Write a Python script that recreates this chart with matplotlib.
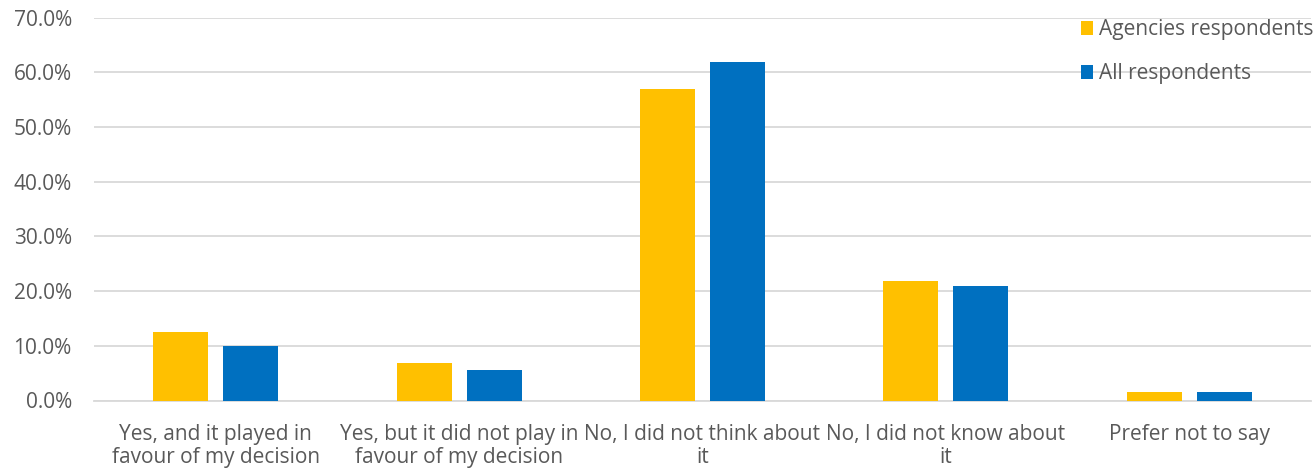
import matplotlib.pyplot as plt
import numpy as np

plt.rcParams['font.family'] = ['Open Sans', 'DejaVu Sans']

categories = ['Yes, and it played in\nfavour of my decision',
              'Yes, but it did not play in\nfavour of my decision',
              'No, I did not think about\nit',
              'No, I did not know about\nit',
              'Prefer not to say']
agencies = [12.5, 6.9, 56.9, 21.8, 1.6]
all_resp = [9.9, 5.6, 61.9, 20.9, 1.6]

text_col = '#595959'
x = np.arange(len(categories))
w = 0.226
off = 0.144

fig = plt.figure(figsize=(13.16, 4.70), dpi=100)
ax = fig.add_axes([94/1316, 1-400.5/470, 1217/1316, 383/470])

ax.bar(x - off, agencies, w, color='#ffc000', label='Agencies respondents', zorder=3)
ax.bar(x + off, all_resp, w, color='#0070c0', label='All respondents', zorder=3)

ax.set_xlim(-0.5, len(categories) - 0.5)
ax.set_ylim(0, 70)
ax.set_yticks(np.arange(0, 71, 10))
ax.set_yticklabels([f'{v:.1f}%' for v in range(0, 71, 10)])
ax.yaxis.grid(True, color='#d9d9d9', linewidth=1.3, zorder=0)
ax.set_xticks(x)
ax.set_xticklabels(categories, linespacing=1.12)
ax.tick_params(axis='both', length=0, labelsize=15, colors=text_col)
ax.tick_params(axis='y', pad=16)
ax.tick_params(axis='x', pad=17)
for s in ax.spines.values():
    s.set_visible(False)
ax.spines['bottom'].set_visible(True)
ax.spines['bottom'].set_color('#d9d9d9')
ax.spines['bottom'].set_linewidth(1.3)

leg = ax.legend(loc='upper left', bbox_to_anchor=(0.804, 1.017),
                frameon=False, fontsize=15, handlelength=0.6, handleheight=0.6,
                handletextpad=0.25, labelspacing=1.1, borderaxespad=0)
for t in leg.get_texts():
    t.set_color(text_col)

fig.savefig('out.png', dpi=100)
